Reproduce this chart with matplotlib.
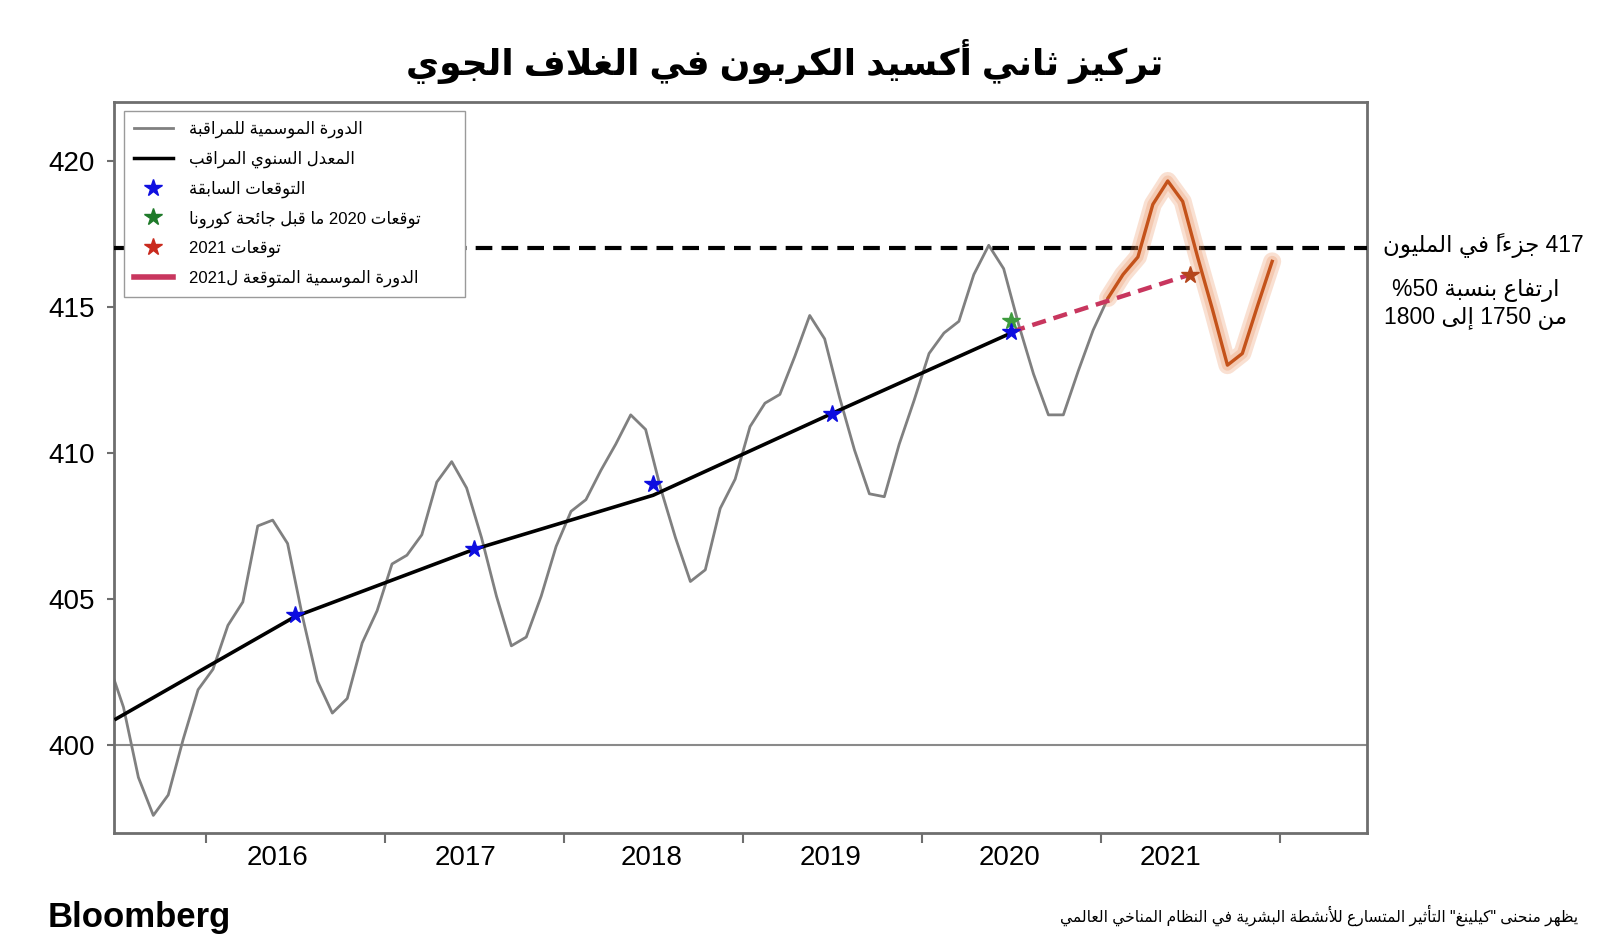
import matplotlib
matplotlib.use("Agg")
import matplotlib.pyplot as plt
from matplotlib.lines import Line2D
import pandas as pd

# monthly observed CO2 (ppm), Jun 2015 .. Jan 2021
obs_months = pd.date_range("2015-06-01", "2021-01-01", freq="MS")
obs_ppm = [
    402.8, 401.3, 398.9, 397.6, 398.3, 400.2, 401.9,                                     # 2015 Jun-Dec
    402.6, 404.1, 404.9, 407.5, 407.7, 406.9, 404.4, 402.2, 401.1, 401.6, 403.5, 404.6,  # 2016
    406.2, 406.5, 407.2, 409.0, 409.7, 408.8, 407.1, 405.1, 403.4, 403.7, 405.1, 406.8,  # 2017
    408.0, 408.4, 409.4, 410.3, 411.3, 410.8, 408.8, 407.1, 405.6, 406.0, 408.1, 409.1,  # 2018
    410.9, 411.7, 412.0, 413.3, 414.7, 413.9, 411.9, 410.1, 408.6, 408.5, 410.3, 411.8,  # 2019
    413.4, 414.1, 414.5, 416.1, 417.1, 416.3, 414.4, 412.7, 411.3, 411.3, 412.8, 414.2,  # 2020
    415.3,                                                                               # 2021 Jan
]

# forecast seasonal cycle for 2021
fc_months = pd.date_range("2021-01-01", "2021-12-01", freq="MS")
fc_ppm = [415.3, 416.1, 416.7, 418.5, 419.3, 418.6, 416.7, 414.9, 413.0, 413.4, 415.0, 416.55]

# observed annual means
annual_years = [2015, 2016, 2017, 2018, 2019, 2020]
annual_ppm = [400.9, 404.4, 406.7, 408.55, 411.35, 414.1]

# earlier forecasts
prev_fc_years = [2016, 2017, 2018, 2019, 2020]
prev_fc_ppm = [404.45, 406.72, 408.93, 411.32, 414.14]
precovid_year = 2020
precovid_ppm = 414.51
fc2021_year = 2021
fc2021_ppm = 416.1

threshold = 417
year_labels = ["2016", "2017", "2018", "2019", "2020", "2021"]

title = "تركيز ثاني أكسيد الكربون في الغلاف الجوي"
legend_labels = [
    "الدورة الموسمية للمراقبة",
    "المعدل السنوي المراقب",
    "التوقعات السابقة",
    "توقعات 2020 ما قبل جائحة كورونا",
    "توقعات 2021",
    "الدورة الموسمية المتوقعة ل2021",
]
note_417 = "417 جزءاً في المليون"
note_rise = ["ارتفاع بنسبة %50", "من 1750 إلى 1800"]
footer = 'يظهر منحنى "كيلينغ" التأثير المتسارع للأنشطة البشرية في النظام المناخي العالمي'


# --- minimal arabic shaping + right-to-left ordering (matplotlib does neither) ---
FORMS = {
    'ء': (0xFE80, 1), 'آ': (0xFE81, 2), 'أ': (0xFE83, 2), 'ؤ': (0xFE85, 2),
    'إ': (0xFE87, 2), 'ئ': (0xFE89, 4), 'ا': (0xFE8D, 2), 'ب': (0xFE8F, 4),
    'ة': (0xFE93, 2), 'ت': (0xFE95, 4), 'ث': (0xFE99, 4), 'ج': (0xFE9D, 4),
    'ح': (0xFEA1, 4), 'خ': (0xFEA5, 4), 'د': (0xFEA9, 2), 'ذ': (0xFEAB, 2),
    'ر': (0xFEAD, 2), 'ز': (0xFEAF, 2), 'س': (0xFEB1, 4), 'ش': (0xFEB5, 4),
    'ص': (0xFEB9, 4), 'ض': (0xFEBD, 4), 'ط': (0xFEC1, 4), 'ظ': (0xFEC5, 4),
    'ع': (0xFEC9, 4), 'غ': (0xFECD, 4), 'ف': (0xFED1, 4), 'ق': (0xFED5, 4),
    'ك': (0xFED9, 4), 'ل': (0xFEDD, 4), 'م': (0xFEE1, 4), 'ن': (0xFEE5, 4),
    'ه': (0xFEE9, 4), 'و': (0xFEED, 2), 'ى': (0xFEEF, 2), 'ي': (0xFEF1, 4),
}
LAM_ALEF = {'آ': 0xFEF5, 'أ': 0xFEF7, 'إ': 0xFEF9, 'ا': 0xFEFB}
MARKS = set(chr(c) for c in range(0x064B, 0x0653))


def shape(text):
    units = []
    for ch in text:
        if ch in MARKS and units:
            units[-1][1] += ch
        elif ch in LAM_ALEF and units and units[-1][0] == 'ل' and not units[-1][1]:
            units[-1][0] = 'ل' + ch
        else:
            units.append([ch, ''])

    def fwd(u):
        return u[0] in FORMS and FORMS[u[0]][1] == 4

    def back(u):
        return len(u[0]) == 2 or (u[0] in FORMS and FORMS[u[0]][1] >= 2)

    out = []
    for i, u in enumerate(units):
        prev = i > 0 and fwd(units[i - 1]) and back(u)
        nxt = i + 1 < len(units) and fwd(u) and back(units[i + 1])
        if len(u[0]) == 2:
            g = chr(LAM_ALEF[u[0][1]] + (1 if prev else 0))
        elif u[0] in FORMS:
            off = 3 if (prev and nxt) else 1 if prev else 2 if nxt else 0
            g = chr(FORMS[u[0]][0] + off)
        else:
            g = u[0]
        out.append(g + u[1])
    return out


def ar(text):
    runs = []
    for g in shape(text):
        ltr = g[0].isascii() and (g[0].isalnum() or g[0] in '%.')
        if runs and runs[-1][0] == ltr:
            runs[-1][1].append(g)
        else:
            runs.append([ltr, [g]])
    return ''.join(''.join(gs) if ltr else ''.join(g[::-1] for g in reversed(gs))
                   for ltr, gs in reversed(runs))


def dec(months):
    return [d.year + (d.month - 0.5) / 12 for d in months]


plt.rcParams['font.family'] = ['Liberation Sans', 'DejaVu Sans']

fig = plt.figure(figsize=(16, 9.43), dpi=100)
ax = fig.add_axes([0.0714, 0.1167, 0.7832, 0.7751])

ax.axhline(400, color='#8a8a8a', lw=1.5, zorder=1)
ax.plot(dec(obs_months), obs_ppm, color='#808080', lw=2, zorder=2)
ax.plot([y + 0.5 for y in annual_years], annual_ppm, color='black', lw=2.6, zorder=3)
ax.axhline(threshold, color='black', lw=3, dashes=(4, 2.2), zorder=3)

# forecast cycle with a soft glow
fx = dec(fc_months)
ax.plot(fx, fc_ppm, color='#e8874f', lw=13, alpha=0.25, solid_capstyle='round',
        solid_joinstyle='round', zorder=3)
ax.plot(fx, fc_ppm, color='#e8874f', lw=8, alpha=0.25, solid_capstyle='round',
        solid_joinstyle='round', zorder=3)
ax.plot(fx, fc_ppm, color='#c4521a', lw=2.4, zorder=4)

ax.plot([prev_fc_years[-1] + 0.5, fc2021_year + 0.5], [prev_fc_ppm[-1], fc2021_ppm],
        color='#c8365e', lw=3.2, dashes=(3.2, 1.8), zorder=4)

ax.plot([y + 0.5 for y in prev_fc_years], prev_fc_ppm, ls='none', marker='*',
        color='#0d0de0', ms=13, zorder=6)
ax.plot([precovid_year + 0.5], [precovid_ppm], ls='none', marker='*',
        color='#3d9b3d', ms=13, zorder=5)
ax.plot([fc2021_year + 0.5], [fc2021_ppm], ls='none', marker='*',
        color='#b5461c', ms=13, zorder=6)

ax.set_xlim(2015.49, 2022.49)
ax.set_ylim(397, 422)
ax.set_yticks([400, 405, 410, 415, 420])
ax.set_xticks(range(2016, 2023))
ax.set_xticklabels([])
ax.set_xticks([2016.40, 2017.45, 2018.49, 2019.49, 2020.49, 2021.39], minor=True)
ax.set_xticklabels(year_labels, minor=True)
ax.tick_params(axis='x', which='major', length=7, width=1.5, color='#6e6e6e')
ax.tick_params(axis='x', which='minor', length=0, pad=9, labelsize=20)
ax.tick_params(axis='y', length=5, width=1.5, color='#6e6e6e', pad=9, labelsize=20)
for s in ax.spines.values():
    s.set_color('#6e6e6e')
    s.set_linewidth(2)

handles = [
    Line2D([], [], color='#808080', lw=2),
    Line2D([], [], color='black', lw=2.5),
    Line2D([], [], ls='none', marker='*', color='#1010e0', ms=13),
    Line2D([], [], ls='none', marker='*', color='#1f7a2a', ms=13),
    Line2D([], [], ls='none', marker='*', color='#c92a1e', ms=13),
    Line2D([], [], color='#c8365e', lw=4),
]
leg = ax.legend(handles, [ar(t) for t in legend_labels], loc='upper left',
                bbox_to_anchor=(0.008, 0.0, 0.272, 0.988), mode='expand',
                borderaxespad=0, fancybox=False, framealpha=1, edgecolor='#9a9a9a',
                prop={'size': 12}, labelspacing=0.75, handlelength=2.3,
                handletextpad=1.0, borderpad=0.6)
leg.get_frame().set_linewidth(1)

fig.text(0.4906, 1 - 61 / 943, ar(title), ha='center', va='center',
         fontsize=26, fontweight='bold')
fig.text(0.8644, 1 - 246 / 943, ar(note_417), ha='left', va='center', fontsize=16.5)
fig.text(0.9225, 1 - 290 / 943, ar(note_rise[0]), ha='center', va='center', fontsize=16.5)
fig.text(0.9225, 1 - 319 / 943, ar(note_rise[1]), ha='center', va='center', fontsize=16.5)

fig.text(0.03, 1 - 918 / 943, 'Bloomberg', ha='left', va='center',
         fontsize=25, fontweight='bold')
fig.text(0.986, 1 - 915 / 943, ar(footer), ha='right', va='center', fontsize=11.2)

fig.savefig('out.png', dpi=100)
